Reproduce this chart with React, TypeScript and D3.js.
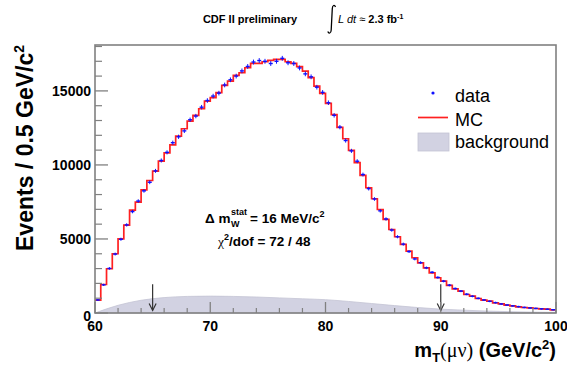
import * as d3 from 'd3'

// binning of the m_T histogram
const X_MIN = 60
const X_MAX = 100
const BIN_WIDTH = 0.5
const Y_MAX = 18100

// MC expectation, one value per 0.5 GeV bin from 60 to 99.5
const mcCounts = [
  865, 1925, 2990, 4000, 5000, 5930, 6950, 7490, 8320, 8950,
  9580, 10260, 10820, 11350, 11950, 12445, 12960, 13345, 13795, 14310,
  14540, 14880, 15370, 15660, 16045, 16225, 16565, 16860, 16860, 16970,
  17060, 17130, 17130, 16970, 16860, 16635, 16340, 15890, 15325, 14830,
  14155, 13400, 12540, 11770, 10980, 10150, 9290, 8460, 7715, 6990,
  6320, 5640, 5150, 4630, 4180, 3730, 3390, 3050, 2715, 2380,
  2150, 1860, 1635, 1475, 1250, 1135, 980, 865, 800, 690,
  620, 530, 485, 420, 370, 350, 305, 285, 260, 215,
]

// observed data, same bins
const dataCounts = [
  880, 1900, 3010, 3980, 4980, 5950, 6850, 7560, 8250, 8830,
  9600, 10300, 10850, 11500, 11900, 12300, 13050, 13300, 13900, 14350,
  14650, 14850, 15400, 15750, 16000, 16350, 16650, 16950, 17050, 17000,
  16850, 17000, 17200, 16900, 16850, 16550, 16150, 15950, 15250, 14900,
  14200, 13350, 12550, 11650, 10950, 10250, 9350, 8400, 7700, 6900,
  6350, 5600, 5150, 4650, 4150, 3650, 3400, 3050, 2750, 2400,
  2150, 1880, 1650, 1480, 1270, 1130, 990, 880, 790, 700,
  610, 540, 480, 430, 375, 340, 310, 280, 255, 220,
]

// background shape
const bkgX = [60, 62, 64, 66, 68, 70, 72, 74, 76, 78, 80, 82, 84, 86, 88, 90, 92, 94, 96, 98, 100]
const bkgCounts = [0, 520, 860, 1040, 1120, 1140, 1120, 1080, 1020, 960, 900, 780, 640, 500, 370, 260, 190, 130, 90, 60, 40]

// fit window markers
const arrowX = [65, 90]
const arrowTop = 1950
const arrowTip = 170

const xMajor = [60, 70, 80, 90, 100]
const xMinor = [62, 64, 66, 68, 72, 74, 76, 78, 82, 84, 86, 88, 92, 94, 96, 98]
const yMajor = [0, 5000, 10000, 15000]
const yMinor = [1000, 2000, 3000, 4000, 6000, 7000, 8000, 9000, 11000, 12000, 13000, 14000, 16000, 17000, 18000]

const FONT = "'Liberation Sans', Arial, sans-serif"
const AXIS = '#808080'

export default function App() {
  const W = 567
  const H = 368
  const left = 95, right = 556, top = 45, bottom = 313

  const x = d3.scaleLinear().domain([X_MIN, X_MAX]).range([left, right])
  const y = d3.scaleLinear().domain([0, Y_MAX]).range([bottom, top])

  const mcPts: [number, number][] = mcCounts.map((v, i) => [X_MIN + i * BIN_WIDTH, v])
  mcPts.push([X_MAX, mcCounts[mcCounts.length - 1]])
  const mcLine = d3.line<[number, number]>()
    .x(d => x(d[0]))
    .y(d => y(d[1]))
    .curve(d3.curveStepAfter)

  const bkgArea = d3.area<number>()
    .x((_, i) => x(bkgX[i]))
    .y0(y(0))
    .y1(d => y(d))
    .curve(d3.curveMonotoneX)

  return (
    <div style={{ position: 'absolute', left: 0, top: 0 }}>
      <svg width={W} height={H} style={{ display: 'block', background: '#fff' }} fontFamily={FONT}>
        {/* top caption */}
        <text x={250} y={23} textAnchor="middle" fontSize={11} fontWeight="bold">CDF II preliminary</text>
        <path d="M335.5,7 C334.5,4.5 332.5,5 332.3,8.5 L331.2,30 C331,33.5 328.8,34 327.8,31.5"
          fill="none" stroke="#000" strokeWidth={1.3} />
        <text x={338} y={23} fontSize={11}>
          <tspan fontStyle="italic">L dt</tspan>
          <tspan> ≈ </tspan>
          <tspan fontWeight="bold">2.3 fb</tspan>
          <tspan dy={-4} fontSize={7} fontWeight="bold">-1</tspan>
        </text>

        {/* background */}
        <path d={bkgArea(bkgCounts) ?? ''} fill="#d2d2e2" stroke="#c4c4d4" strokeWidth={0.8} />

        {/* MC */}
        <path d={mcLine(mcPts) ?? ''} fill="none" stroke="#ff2020" strokeWidth={1.7} />

        {/* data */}
        {dataCounts.map((v, i) => {
          const cx = x(X_MIN + (i + 0.5) * BIN_WIDTH)
          const cy = y(v)
          const err = Math.abs(y(v + Math.sqrt(v)) - cy)
          return (
            <g key={i} stroke="#1010ff">
              <line x1={cx - 2} x2={cx + 2} y1={cy} y2={cy} strokeWidth={1.4} />
              <line x1={cx} x2={cx} y1={cy - err - 0.5} y2={cy + err + 0.5} strokeWidth={1} />
            </g>
          )
        })}

        {/* arrows */}
        {arrowX.map(a => (
          <g key={a} stroke="#333" strokeWidth={1.2} fill="none">
            <line x1={x(a)} x2={x(a)} y1={y(arrowTop)} y2={y(arrowTip)} />
            <path d={`M${x(a) - 3.5},${y(arrowTip) - 7} L${x(a)},${y(arrowTip)} L${x(a) + 3.5},${y(arrowTip) - 7}`} />
          </g>
        ))}

        {/* frame */}
        <rect x={left} y={top} width={right - left} height={bottom - top} fill="none" stroke={AXIS} strokeWidth={1.6} />

        {/* y ticks */}
        {yMajor.map(t => (
          <g key={t}>
            <line x1={left} x2={left + 13} y1={y(t)} y2={y(t)} stroke={AXIS} strokeWidth={1.3} />
            <text x={left - 4} y={y(t) + (t === 0 ? 8 : 5)} textAnchor="end" fontSize={14} fontWeight="bold">{t}</text>
          </g>
        ))}
        {yMinor.map(t => (
          <line key={t} x1={left} x2={left + 7} y1={y(t)} y2={y(t)} stroke={AXIS} strokeWidth={1.2} />
        ))}

        {/* x ticks */}
        {xMajor.map(t => (
          <g key={t}>
            <line x1={x(t)} x2={x(t)} y1={bottom} y2={bottom - 11} stroke={AXIS} strokeWidth={1.3} />
            <text x={x(t)} y={bottom + 18} textAnchor="middle" fontSize={14} fontWeight="bold">{t}</text>
          </g>
        ))}
        {xMinor.map(t => (
          <line key={t} x1={x(t)} x2={x(t)} y1={bottom} y2={bottom - 5} stroke={AXIS} strokeWidth={1.2} />
        ))}

        {/* axis titles */}
        <text transform={`translate(33,${top}) rotate(-90)`} textAnchor="end" fontSize={23} fontWeight="bold">
          Events / 0.5 GeV/c<tspan dy={-9} fontSize={14}>2</tspan>
        </text>
        <text x={right} y={357} textAnchor="end" fontSize={20} fontWeight="bold">
          m<tspan dy={5} fontSize={13}>T</tspan>
          <tspan dy={-5} fontWeight="normal" fontFamily="'Liberation Serif', serif">(μν)</tspan>
          <tspan> (GeV/c</tspan>
          <tspan dy={-8} fontSize={13}>2</tspan>
          <tspan dy={8}>)</tspan>
        </text>

        {/* fit annotation */}
        <text x={205} y={223} fontSize={13.5} fontWeight="bold">Δ m</text>
        <text x={231} y={227} fontSize={9} fontWeight="bold">W</text>
        <text x={231} y={215} fontSize={9} fontWeight="bold">stat</text>
        <text x={250} y={223} fontSize={13.5} fontWeight="bold">
          = 16 MeV/c<tspan dy={-6} fontSize={9}>2</tspan>
        </text>
        <text x={218} y={246} fontSize={13.5} fontWeight="bold">
          <tspan fontWeight="normal" fontFamily="'Liberation Serif', serif">χ</tspan>
          <tspan dy={-6} fontSize={9}>2</tspan>
          <tspan dy={6}>/dof = 72 / 48</tspan>
        </text>

        {/* legend */}
        <circle cx={433} cy={93} r={1.6} fill="#1010ff" />
        <text x={455} y={101.5} fontSize={18}>data</text>
        <line x1={418} x2={448} y1={117.5} y2={117.5} stroke="#ff2020" strokeWidth={1.7} />
        <text x={455} y={125.5} fontSize={18}>MC</text>
        <rect x={418} y={133} width={31} height={18} fill="#d2d2e2" stroke="#c4c4d4" strokeWidth={0.8} />
        <text x={455} y={148} fontSize={18}>background</text>
      </svg>
    </div>
  )
}
